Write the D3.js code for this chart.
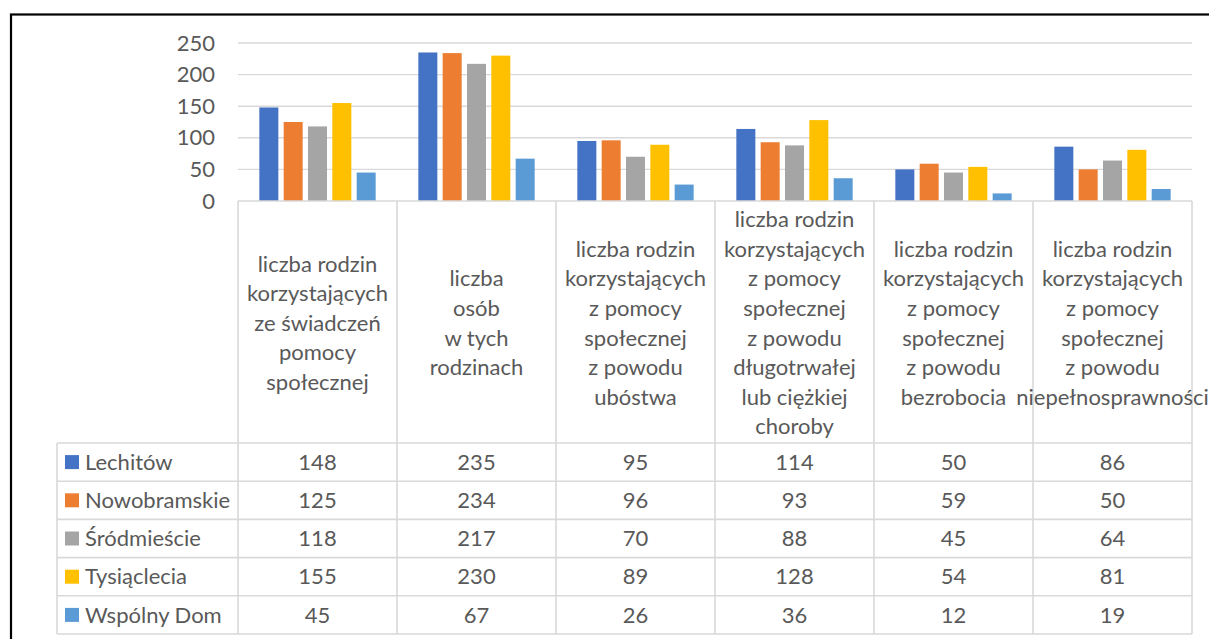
<!DOCTYPE html>
<html>
<head>
<meta charset="utf-8">
<script src="https://cdn.jsdelivr.net/npm/d3@7"></script>
<style>
  html, body { margin: 0; padding: 0; background: #fff; }
  svg { display: block; }
  text { font-family: Lato, "Open Sans", sans-serif; fill: #595959; }
</style>
</head>
<body>
<svg id="chart" width="1209" height="639"></svg>
<script>
// ---- data ----
const categories = [
  "liczba rodzin\nkorzystających\nze świadczeń\npomocy\nspołecznej",
  "liczba\nosób\nw tych\nrodzinach",
  "liczba rodzin\nkorzystających\nz pomocy\nspołecznej\nz powodu\nubóstwa",
  "liczba rodzin\nkorzystających\nz pomocy\nspołecznej\nz powodu\ndługotrwałej\nlub ciężkiej\nchoroby",
  "liczba rodzin\nkorzystających\nz pomocy\nspołecznej\nz powodu\nbezrobocia",
  "liczba rodzin\nkorzystających\nz pomocy\nspołecznej\nz powodu\nniepełnosprawności"
];
const seriesNames = ["Lechitów", "Nowobramskie", "Śródmieście", "Tysiąclecia", "Wspólny Dom"];
const seriesColors = ["#4472C4", "#ED7D31", "#A5A5A5", "#FFC000", "#5B9BD5"];
const lechitow     = [148, 235, 95, 114, 50, 86];
const nowobramskie = [125, 234, 96, 93, 59, 50];
const srodmiescie  = [118, 217, 70, 88, 45, 64];
const tysiaclecia  = [155, 230, 89, 128, 54, 81];
const wspolnyDom   = [45, 67, 26, 36, 12, 19];
const yTicks = [0, 50, 100, 150, 200, 250];

const seriesValues = [lechitow, nowobramskie, srodmiescie, tysiaclecia, wspolnyDom];

// ---- layout ----
const svg = d3.select("#chart");
const plotL = 238, plotR = 1192, plotT = 43, plotB = 201;
const headerB = 443, rowH = 38.2, legendL = 57;
const gridColor = "#d9d9d9";
const fontSize = 22;

// outer chart border
svg.append("rect")
  .attr("x", 11).attr("y", 14.5).attr("width", 1400).attr("height", 800)
  .attr("fill", "none").attr("stroke", "#000").attr("stroke-width", 2.2);

const x0 = d3.scaleBand().domain(d3.range(categories.length)).range([plotL, plotR]).padding(0);
const x1 = d3.scaleBand().domain(d3.range(seriesNames.length)).range([0, x0.bandwidth()])
  .paddingInner(0.219).paddingOuter(0.877);
const y = d3.scaleLinear().domain([0, 250]).range([plotB, plotT]);

// gridlines
svg.append("g").selectAll("line").data(yTicks.filter(d => d > 0)).join("line")
  .attr("x1", plotL).attr("x2", plotR)
  .attr("y1", d => y(d)).attr("y2", d => y(d))
  .attr("stroke", gridColor).attr("stroke-width", 1.4);

// y axis
const yAxis = svg.append("g").attr("transform", `translate(${plotL},0)`)
  .call(d3.axisLeft(y).tickValues(yTicks).tickSize(0).tickPadding(23));
yAxis.select(".domain").remove();
yAxis.selectAll("text").style("font-size", fontSize + "px")
  .style("font-family", "Lato, sans-serif").attr("fill", "#595959");

// bars
const groups = svg.append("g").selectAll("g").data(categories).join("g")
  .attr("transform", (d, i) => `translate(${x0(i)},0)`);
groups.selectAll("rect").data((d, i) => seriesValues.map((s, k) => ({k, v: s[i]}))).join("rect")
  .attr("x", d => x1(d.k)).attr("width", x1.bandwidth())
  .attr("y", d => y(d.v)).attr("height", d => plotB - y(d.v))
  .attr("fill", d => seriesColors[d.k]);

// table lines
const tbl = svg.append("g").attr("stroke", gridColor).attr("stroke-width", 1.6);
const rowsB = headerB + rowH * seriesNames.length;
tbl.append("line").attr("x1", plotL).attr("x2", plotR).attr("y1", plotB).attr("y2", plotB);
d3.range(seriesNames.length + 1).forEach(r => {
  const yy = headerB + r * rowH;
  tbl.append("line").attr("x1", legendL).attr("x2", plotR).attr("y1", yy).attr("y2", yy);
});
d3.range(categories.length + 1).forEach(c => {
  const xx = c < categories.length ? x0(c) : plotR;
  tbl.append("line").attr("x1", xx).attr("x2", xx).attr("y1", plotB).attr("y2", rowsB);
});
tbl.append("line").attr("x1", legendL).attr("x2", legendL).attr("y1", headerB).attr("y2", rowsB);

// header (category) labels
const lineH = 29.6;
const headerMid = (plotB + headerB) / 2 + 1;
categories.forEach((c, i) => {
  const lines = c.split("\n");
  const cx = x0(i) + x0.bandwidth() / 2;
  const t = svg.append("text").attr("text-anchor", "middle")
    .style("font-size", fontSize + "px");
  lines.forEach((ln, j) => {
    t.append("tspan").attr("x", cx)
      .attr("y", headerMid + (j - (lines.length - 1) / 2) * lineH)
      .attr("dy", "0.35em").text(ln);
  });
});

// table rows
seriesNames.forEach((name, r) => {
  const cy = headerB + r * rowH + rowH / 2;
  svg.append("rect").attr("x", 65).attr("y", cy - 7).attr("width", 14).attr("height", 14)
    .attr("fill", seriesColors[r]);
  svg.append("text").attr("x", 85).attr("y", cy).attr("dy", "0.35em")
    .style("font-size", fontSize + "px").text(name);
  seriesValues[r].forEach((v, i) => {
    svg.append("text").attr("x", x0(i) + x0.bandwidth() / 2).attr("y", cy).attr("dy", "0.35em")
      .attr("text-anchor", "middle").style("font-size", fontSize + "px").text(v);
  });
});
</script>
</body>
</html>
